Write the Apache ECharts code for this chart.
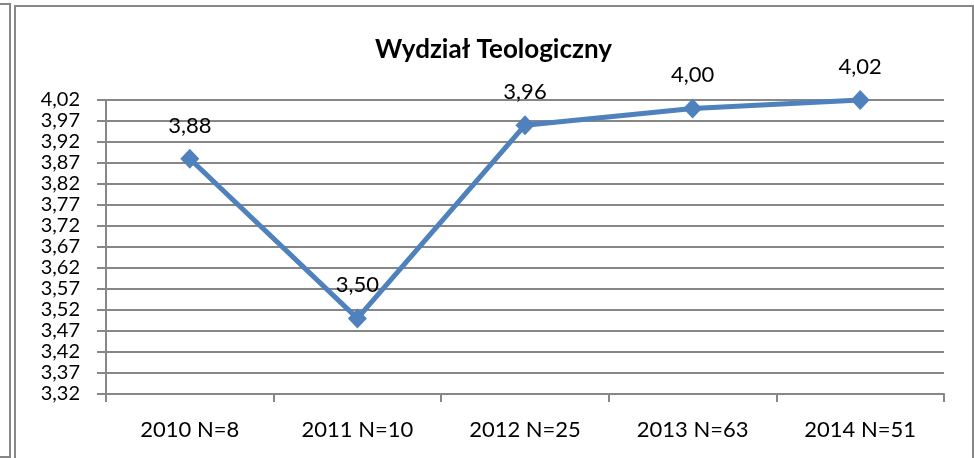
<!DOCTYPE html>
<html>
<head>
<meta charset="utf-8">
<script src="https://cdn.jsdelivr.net/npm/echarts@6/dist/echarts.min.js"></script>
<style>
  html, body { margin: 0; padding: 0; background: #fff; }
  #chart { width: 974px; height: 458px; }
</style>
</head>
<body>
<div id="chart"></div>
<script>
// dane z wykresu
const chartTitle = 'Wydział Teologiczny';
const categories = ['2010 N=8', '2011 N=10', '2012 N=25', '2013 N=63', '2014 N=51'];
const values = [3.88, 3.50, 3.96, 4.00, 4.02];
const yTicks = [3.32, 3.37, 3.42, 3.47, 3.52, 3.57, 3.62, 3.67, 3.72, 3.77, 3.82, 3.87, 3.92, 3.97, 4.02];

const fontFamily = 'Lato, "Open Sans", sans-serif';
const gridColor = '#878787';

let myChart = echarts.init(document.getElementById('chart'));
myChart.setOption({
  backgroundColor: '#fff',
  animation: false,
  title: {
    text: chartTitle,
    left: 370,
    top: 32,
    textStyle: {
      fontFamily: fontFamily,
      fontSize: 26,
      fontWeight: 'bold',
      color: '#000'
    }
  },
  graphic: [
    { // ramka wykresu
      type: 'rect',
      shape: { x: 15, y: 6, width: 958, height: 470 },
      style: { fill: null, stroke: gridColor, lineWidth: 2 },
      silent: true
    },
    { // fragment sąsiedniej ramki po lewej
      type: 'rect',
      shape: { x: -20, y: 4, width: 30, height: 453 },
      style: { fill: null, stroke: gridColor, lineWidth: 2 },
      silent: true
    }
  ],
  grid: {
    left: 106,
    right: 30,
    top: 100,
    bottom: 64,
    containLabel: false
  },
  xAxis: {
    type: 'category',
    boundaryGap: true,
    data: categories,
    axisLine: {
      lineStyle: { color: gridColor, width: 2 }
    },
    axisTick: {
      show: true,
      alignWithLabel: false,
      length: 8,
      lineStyle: { color: gridColor, width: 2 }
    },
    axisLabel: {
      margin: 25,
      color: '#000',
      fontFamily: fontFamily,
      fontSize: 22
    }
  },
  yAxis: {
    type: 'value',
    min: 3.32,
    max: 4.02,
    axisLine: {
      show: true,
      lineStyle: { color: gridColor, width: 2 }
    },
    axisTick: {
      show: true,
      length: 9,
      customValues: yTicks,
      lineStyle: { color: gridColor, width: 2 }
    },
    splitLine: {
      show: true,
      lineStyle: { color: gridColor, width: 2 }
    },
    axisLabel: {
      customValues: yTicks,
      showMinLabel: true,
      showMaxLabel: true,
      hideOverlap: false,
      margin: 26,
      color: '#000',
      fontFamily: fontFamily,
      fontSize: 20,
      formatter: function (v) {
        return v.toFixed(2).replace('.', ',');
      }
    }
  },
  series: [{
    type: 'line',
    data: values,
    symbol: 'diamond',
    symbolSize: [19, 20],
    lineStyle: { color: '#4F81BD', width: 5 },
    itemStyle: { color: '#4F81BD' },
    label: {
      show: true,
      position: 'top',
      distance: 12,
      color: '#000',
      fontFamily: fontFamily,
      fontSize: 22,
      formatter: function (p) {
        return p.value.toFixed(2).replace('.', ',');
      }
    },
    z: 5
  }]
});
</script>
</body>
</html>
